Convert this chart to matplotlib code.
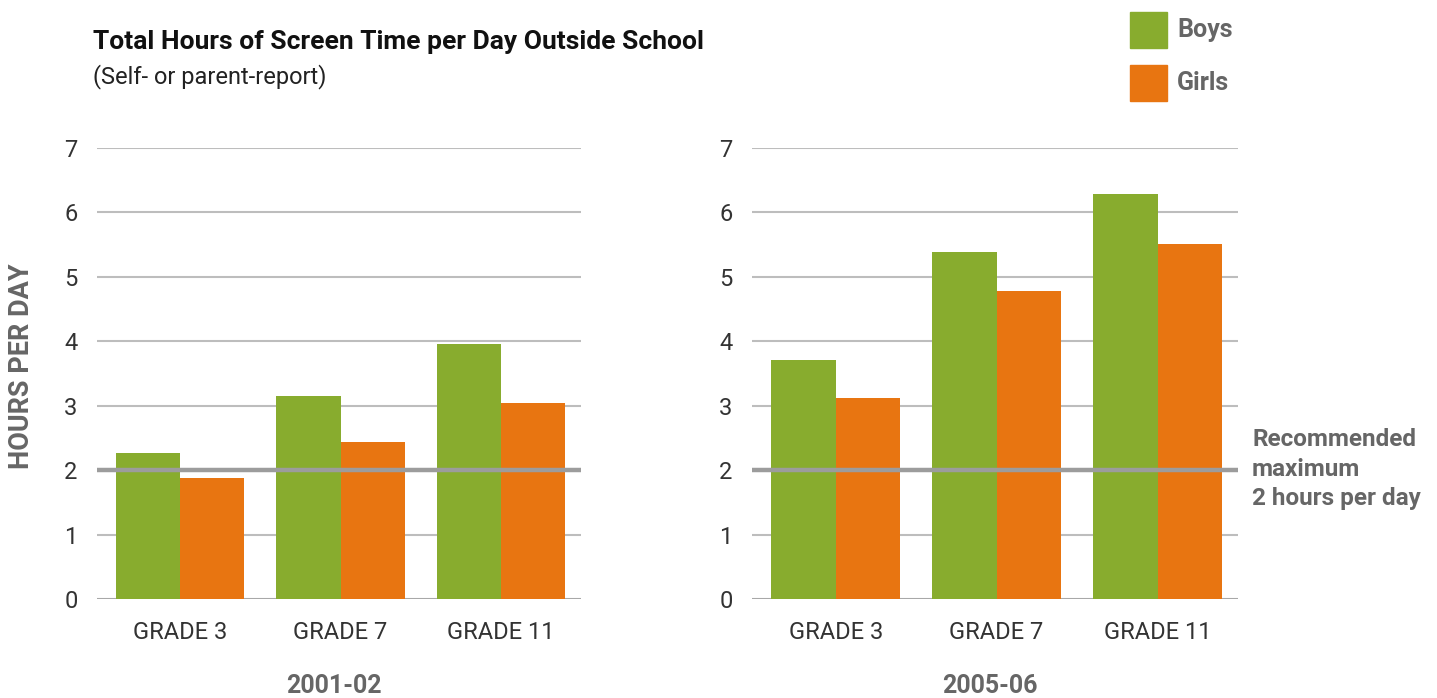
import numpy as np
import matplotlib
matplotlib.use("Agg")
import matplotlib.pyplot as plt

plt.rcParams['font.family'] = ['Liberation Sans Narrow', 'Roboto', 'DejaVu Sans']

grades = ["GRADE 3", "GRADE 7", "GRADE 11"]
years = ["2001-02", "2005-06"]
boys = [[2.27, 3.15, 3.96], [3.71, 5.39, 6.29]]
girls = [[1.88, 2.44, 3.04], [3.12, 4.78, 5.51]]
recommended = 2

green = "#88AC2E"
orange = "#E87511"
gray_txt = "#666666"

fig = plt.figure(figsize=(14.37, 6.98), dpi=100)
W, H = 1437, 698

panels = [(97, 581), (752, 1238)]
x = np.arange(len(grades))
w = 0.4

for i, (x0, x1) in enumerate(panels):
    ax = fig.add_axes([x0 / W, 1 - 599 / H, (x1 - x0) / W, (599 - 148) / H])
    ax.set_ylim(0, 7)
    ax.set_xlim(-0.52, 2.5)
    for y in range(1, 8):
        ax.axhline(y, color="#bdbdbd", lw=1.5, zorder=0)
    ax.axhline(0, color="#a8a8a8", lw=1.5, zorder=0)
    ax.bar(x - w / 2, boys[i], w, color=green, zorder=2)
    ax.bar(x + w / 2, girls[i], w, color=orange, zorder=2)
    ax.axhline(recommended, color="#9c9c9c", lw=3.2, zorder=3)
    ax.set_yticks(range(0, 8))
    ax.set_xticks(x)
    ax.set_xticklabels(grades)
    ax.tick_params(length=0, labelsize=17, colors="#333333")
    ax.tick_params(axis="y", pad=14)
    ax.tick_params(axis="x", pad=16)
    for s in ax.spines.values():
        s.set_visible(False)
    ax.set_facecolor("none")
    fig.text(((x0 + x1) / 2 - 5) / W, 1 - 686 / H, years[i], ha="center", va="center",
             fontsize=18, fontweight="bold", color=gray_txt)

fig.text(93 / W, 1 - 42 / H, "Total Hours of Screen Time per Day Outside School",
         ha="left", va="center", fontsize=19, fontweight="bold", color="#111111")
fig.text(93 / W, 1 - 77 / H, "(Self- or parent-report)", ha="left", va="center",
         fontsize=17, color="#222222")
fig.text(22 / W, 1 - 366 / H, "HOURS PER DAY", rotation=90, ha="center", va="center",
         fontsize=19.5, fontweight="bold", color=gray_txt)

# legend
for lab, col, yc in [("Boys", green, 30), ("Girls", orange, 83)]:
    fig.patches.append(plt.Rectangle((1130 / W, 1 - (yc + 18) / H), 37 / W, 36 / H,
                                     transform=fig.transFigure, color=col))
    fig.text(1177 / W, 1 - yc / H, lab, ha="left", va="center", fontsize=18,
             fontweight="bold", color=gray_txt)

fig.text(1252 / W, 1 - 469 / H, "Recommended\nmaximum\n2 hours per day", ha="left",
         va="center", fontsize=17.5, fontweight="bold", color=gray_txt, linespacing=1.35)

fig.savefig("out.png", dpi=100)
